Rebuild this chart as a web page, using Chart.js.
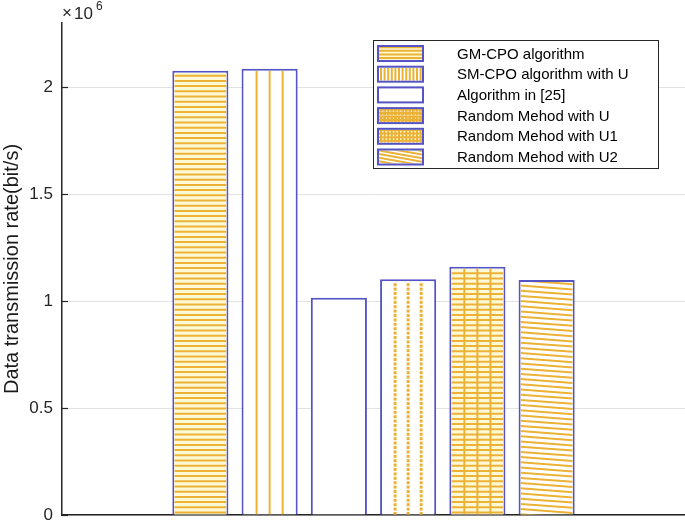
<!DOCTYPE html>
<html>
<head>
<meta charset="utf-8">
<script src="https://cdn.jsdelivr.net/npm/chart.js@4.4.1/dist/chart.umd.min.js"></script>
<style>
  html, body { margin: 0; padding: 0; background: #fff; }
  #wrap { width: 685px; height: 524px; }
</style>
</head>
<body>
<div id="wrap"><canvas id="chart"></canvas></div>
<script>
// datos
const metodos = ["GM-CPO algorithm", "SM-CPO algorithm with U", "Algorithm in [25]",
                 "Random Mehod with U", "Random Mehod with U1", "Random Mehod with U2"];
const tasas = [2.077e6, 2.086e6, 1.016e6, 1.102e6, 1.161e6, 1.099e6];
const ticksY = [0, 0.5, 1, 1.5, 2];   // x10^6
const maxY = 2.3e6;

// tramas de cada barra
const tramas = ["horiz", "vert", "none", "dotvert", "cross", "diag"];
const AMARILLO = "#ebb236";
const AZUL = "#5454c4";
const FUENTE = "'Liberation Sans', Arial, sans-serif";

function dibujarTrama(ctx, tipo, x, y, w, h, enLeyenda) {
  ctx.save();
  ctx.beginPath();
  ctx.rect(x, y, w, h);
  ctx.clip();
  if (tipo === "horiz" || tipo === "cross") {
    ctx.fillStyle = "#fff9d6";
    ctx.fillRect(x, y, w, h);
  }
  ctx.strokeStyle = AMARILLO;
  ctx.fillStyle = AMARILLO;
  ctx.lineWidth = 2;
  const paso = enLeyenda ? 3.6 : 5.2;
  const xsVert = [];
  if (enLeyenda) {
    for (let xx = x + 2; xx < x + w; xx += 3.6) xsVert.push(xx);
  } else {
    xsVert.push(x + w * 0.25, x + w * 0.5, x + w * 0.75);
  }
  const lineasH = () => {
    for (let yy = y + h - 2; yy > y; yy -= paso) {
      ctx.beginPath(); ctx.moveTo(x, yy); ctx.lineTo(x + w, yy); ctx.stroke();
    }
  };
  const lineasV = () => {
    xsVert.forEach(xx => {
      ctx.beginPath(); ctx.moveTo(xx, y); ctx.lineTo(xx, y + h); ctx.stroke();
    });
  };
  if (tipo === "horiz") lineasH();
  if (tipo === "vert") lineasV();
  if (tipo === "cross") { lineasH(); lineasV(); }
  if (tipo === "dotvert") {
    xsVert.forEach(xx => {
      for (let yy = y + h - 1; yy > y; yy -= (enLeyenda ? 3.6 : 4.4)) {
        ctx.fillRect(xx - 1.5, yy - 1.5, 3, 3);
      }
    });
    if (enLeyenda) lineasH();
  }
  if (tipo === "diag") {
    const pend = enLeyenda ? 0.18 : 0.075;
    for (let yy = y + h + 5; yy > y - w * pend - 5; yy -= paso) {
      ctx.beginPath(); ctx.moveTo(x, yy); ctx.lineTo(x + w, yy + w * pend); ctx.stroke();
    }
  }
  ctx.restore();
}

const pluginTramas = {
  id: "tramas",
  afterDatasetsDraw(chart) {
    const ctx = chart.ctx;
    chart.data.datasets.forEach((ds, i) => {
      chart.getDatasetMeta(i).data.forEach(el => {
        const b = ds.borderWidth;
        const x = el.x - el.width / 2 + b, y = el.y + b;
        dibujarTrama(ctx, tramas[i], x, y, el.width - 2 * b, el.base - el.y - b, false);
      });
    });
  },
  afterDraw(chart) {
    const ctx = chart.ctx;
    const area = chart.chartArea;
    const esc = chart.scales.y;

    // marcas hacia dentro
    ctx.save();
    ctx.strokeStyle = "#262626";
    ctx.lineWidth = 1.2;
    ticksY.forEach(t => {
      const py = Math.round(esc.getPixelForValue(t * 1e6)) + 0.5;
      ctx.beginPath(); ctx.moveTo(area.left, py); ctx.lineTo(area.left + 6, py); ctx.stroke();
    });

    // x10^6
    ctx.fillStyle = "#262626";
    ctx.textBaseline = "alphabetic";
    ctx.font = "17px " + FUENTE;
    ctx.fillText("\u00d7", area.left + 0, 18);
    ctx.fillText("10", area.left + 12, 19);
    ctx.font = "12px " + FUENTE;
    ctx.fillText("6", area.left + 34, 10);

    // leyenda
    const lx = 373, ly = 40, lw = 285, lh = 128;
    ctx.fillStyle = "#fff";
    ctx.fillRect(lx, ly, lw, lh);
    ctx.strokeStyle = "#262626";
    ctx.lineWidth = 1;
    ctx.strokeRect(lx + 0.5, ly + 0.5, lw, lh);
    metodos.forEach((m, i) => {
      const cy = 53.5 + i * 20.7;
      const ix = 378, iw = 45, ih = 15, iy = cy - ih / 2;
      ctx.fillStyle = "#fff";
      ctx.fillRect(ix, iy, iw, ih);
      dibujarTrama(ctx, tramas[i], ix + 1, iy + 1, iw - 2, ih - 2, true);
      ctx.strokeStyle = AZUL;
      ctx.lineWidth = 2;
      ctx.strokeRect(ix, iy, iw, ih);
      ctx.fillStyle = "#000";
      ctx.font = "15px " + FUENTE;
      ctx.textBaseline = "middle";
      ctx.fillText(m, 457, cy + 1);
    });
    ctx.restore();
  }
};

const datasets = metodos.map((m, i) => ({
  label: m,
  data: [tasas[i]],
  backgroundColor: "#ffffff",
  borderColor: AZUL,
  borderWidth: 2,
  categoryPercentage: 0.667,
  barPercentage: 0.81
}));

new Chart(document.getElementById("chart"), {
  type: "bar",
  data: { labels: [""], datasets: datasets },
  options: {
    responsive: true,
    maintainAspectRatio: false,
    animation: false,
    devicePixelRatio: 1,
    layout: { padding: { top: 23, right: 0, left: 0, bottom: 0 } },
    plugins: { legend: { display: false }, tooltip: { enabled: false } },
    scales: {
      x: {
        grid: { display: false },
        ticks: { display: false },
        border: { display: true, color: "#262626", width: 1.5 },
        afterFit: s => { s.height = 9; }
      },
      y: {
        min: 0,
        max: maxY,
        afterBuildTicks: s => { s.ticks = ticksY.map(v => ({ value: v * 1e6 })); },
        afterFit: s => { s.width = 62; s.paddingTop = 0; s.paddingBottom = 0; },
        grid: { color: "#e2e2e2", lineWidth: 1, drawTicks: false },
        border: { display: true, color: "#262626", width: 1.5 },
        ticks: {
          padding: 9,
          color: "#262626",
          font: { family: FUENTE, size: 17 },
          callback: v => String(v / 1e6)
        },
        title: {
          display: true,
          text: "Data transmission rate(bit/s)",
          color: "#1a1a1a",
          font: { family: FUENTE, size: 20 },
          padding: 0
        }
      }
    }
  },
  plugins: [pluginTramas]
});
</script>
</body>
</html>
